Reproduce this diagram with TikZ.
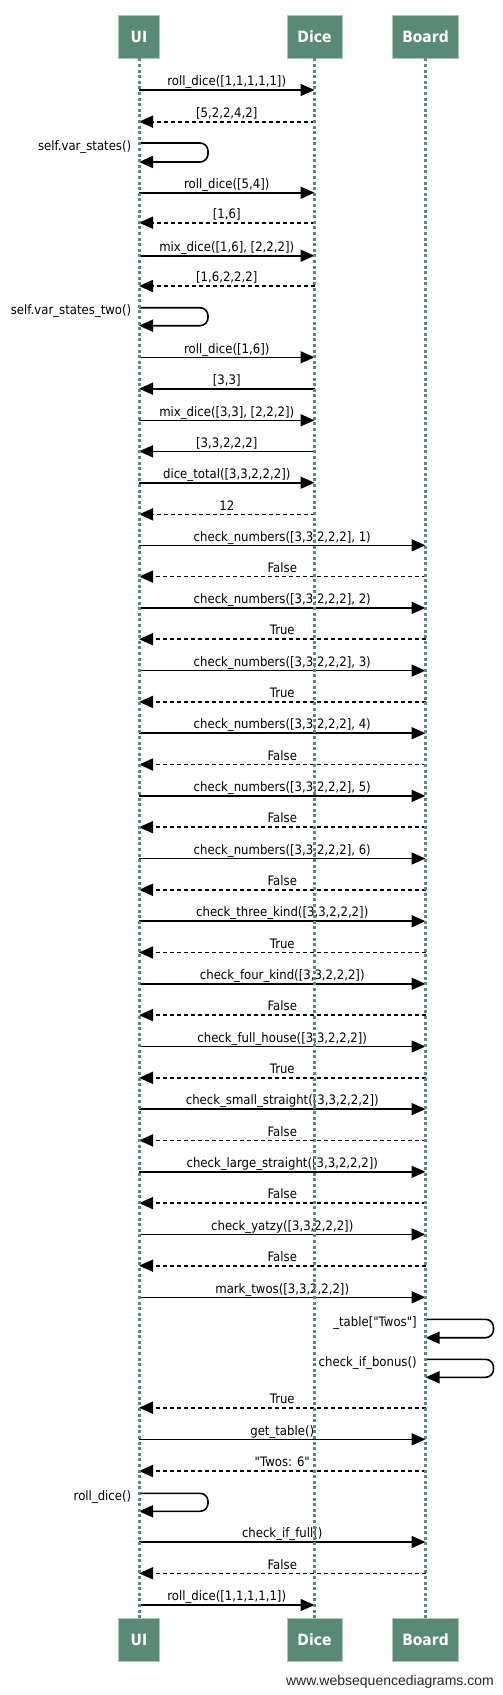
\documentclass[tikz,border=0pt]{standalone}
\usepackage{fontspec}
\usepackage{tikz}
\usetikzlibrary{arrows.meta, positioning}
\newfontfamily\seqfont{DejaVu Sans}[FakeStretch=0.9]
\newfontfamily\wsdfont{Liberation Sans}
\definecolor{lifegreen}{RGB}{88,138,118}
\definecolor{lifeline}{RGB}{86,140,120}
\definecolor{lifeedge}{RGB}{170,198,187}

\begin{document}
\begin{tikzpicture}[x=1pt,y=-1pt,
          actor/.style={draw=lifeedge,fill=lifegreen,line width=0.8pt,minimum height=43pt,
                        inner xsep=10pt,text=white,font=\seqfont\bfseries\fontsize{15.5}{15.5}\selectfont},
          life/.style={lifeline,line width=3pt,dash pattern=on 3pt off 2.6pt},
          call/.style={-{Triangle[length=14pt,width=12pt]},line width=1.6pt},
          reply/.style={call,dash pattern=on 4pt off 3pt},
          selfcall/.style={call,rounded corners=8pt},
          lbl/.style={font=\seqfont\fontsize{13}{13}\selectfont,inner sep=1pt,text depth=2.5pt}]
        \useasboundingbox (0,0) rectangle (503,1695);
        % participants, top and bottom
        \node[actor,minimum width=41pt](ui)    at (139,36.5){UI};
        \node[actor,minimum width=55pt](dice)  at (314.5,36.5){Dice};
        \node[actor,minimum width=65pt](board) at (425.5,36.5){Board};
        \node[actor,minimum width=41pt](uib)    at (139,1639.5){UI};
        \node[actor,minimum width=55pt](diceb)  at (314.5,1639.5){Dice};
        \node[actor,minimum width=65pt](boardb) at (425.5,1639.5){Board};
        % rolling
        \draw[call](ui |- 0,90)--node[lbl,above](m1){roll\_dice([1,1,1,1,1])}(dice |- 0,90);
        \draw[reply](dice |- 0,121.7)--node[lbl,above](m2){[5,2,2,4,2]}(ui |- 0,121.7);
        \draw[selfcall](ui |- 0,143)
          node[lbl,anchor=base east,xshift=-6pt,yshift=-7pt](m3){self.var\_states()}
          --++(69,0)--++(0,19)--++(-69,0);
        \draw[call](ui |- 0,192.7)--node[lbl,above](m4){roll\_dice([5,4])}(dice |- 0,192.7);
        \draw[reply](dice |- 0,222.7)--node[lbl,above](m5){[1,6]}(ui |- 0,222.7);
        \draw[call](ui |- 0,255.7)--node[lbl,above](m6){mix\_dice([1,6], [2,2,2])}(dice |- 0,255.7);
        \draw[reply](dice |- 0,286)--node[lbl,above](m7){[1,6,2,2,2]}(ui |- 0,286);
        \draw[selfcall](ui |- 0,307.7)
          node[lbl,anchor=base east,xshift=-6pt,yshift=-7pt](m8){self.var\_states\_two()}
          --++(69,0)--++(0,18)--++(-69,0);
        \draw[call](ui |- 0,357.3)--node[lbl,above](m9){roll\_dice([1,6])}(dice |- 0,357.3);
        \draw[call](dice |- 0,388.7)--node[lbl,above](m10){[3,3]}(ui |- 0,388.7);
        \draw[call](ui |- 0,420.3)--node[lbl,above](m11){mix\_dice([3,3], [2,2,2])}(dice |- 0,420.3);
        \draw[call](dice |- 0,451.3)--node[lbl,above](m12){[3,3,2,2,2]}(ui |- 0,451.3);
        \draw[call](ui |- 0,482.7)--node[lbl,above](m13){dice\_total([3,3,2,2,2])}(dice |- 0,482.7);
        \draw[reply](dice |- 0,514.3)--node[lbl,above](m14){12}(ui |- 0,514.3);
        % board checks
        \draw[call](ui |- 0,545.3)--node[lbl,above](m15){check\_numbers([3,3,2,2,2], 1)}(board |- 0,545.3);
        \draw[reply](board |- 0,576.6)--node[lbl,above](m16){False}(ui |- 0,576.6);
        \draw[call](ui |- 0,607.9)--node[lbl,above](m17){check\_numbers([3,3,2,2,2], 2)}(board |- 0,607.9);
        \draw[reply](board |- 0,639.2)--node[lbl,above](m18){True}(ui |- 0,639.2);
        \draw[call](ui |- 0,670.6)--node[lbl,above](m19){check\_numbers([3,3,2,2,2], 3)}(board |- 0,670.6);
        \draw[reply](board |- 0,701.9)--node[lbl,above](m20){True}(ui |- 0,701.9);
        \draw[call](ui |- 0,733.2)--node[lbl,above](m21){check\_numbers([3,3,2,2,2], 4)}(board |- 0,733.2);
        \draw[reply](board |- 0,764.5)--node[lbl,above](m22){False}(ui |- 0,764.5);
        \draw[call](ui |- 0,795.9)--node[lbl,above](m23){check\_numbers([3,3,2,2,2], 5)}(board |- 0,795.9);
        \draw[reply](board |- 0,827.2)--node[lbl,above](m24){False}(ui |- 0,827.2);
        \draw[call](ui |- 0,858.5)--node[lbl,above](m25){check\_numbers([3,3,2,2,2], 6)}(board |- 0,858.5);
        \draw[reply](board |- 0,889.8)--node[lbl,above](m26){False}(ui |- 0,889.8);
        \draw[call](ui |- 0,921.2)--node[lbl,above](m27){check\_three\_kind([3,3,2,2,2])}(board |- 0,921.2);
        \draw[reply](board |- 0,952.5)--node[lbl,above](m28){True}(ui |- 0,952.5);
        \draw[call](ui |- 0,983.8)--node[lbl,above](m29){check\_four\_kind([3,3,2,2,2])}(board |- 0,983.8);
        \draw[reply](board |- 0,1015.1)--node[lbl,above](m30){False}(ui |- 0,1015.1);
        \draw[call](ui |- 0,1046.5)--node[lbl,above](m31){check\_full\_house([3,3,2,2,2])}(board |- 0,1046.5);
        \draw[reply](board |- 0,1077.8)--node[lbl,above](m32){True}(ui |- 0,1077.8);
        \draw[call](ui |- 0,1109.1)--node[lbl,above](m33){check\_small\_straight([3,3,2,2,2])}(board |- 0,1109.1);
        \draw[reply](board |- 0,1140.4)--node[lbl,above](m34){False}(ui |- 0,1140.4);
        \draw[call](ui |- 0,1171.8)--node[lbl,above](m35){check\_large\_straight([3,3,2,2,2])}(board |- 0,1171.8);
        \draw[reply](board |- 0,1203.1)--node[lbl,above](m36){False}(ui |- 0,1203.1);
        \draw[call](ui |- 0,1234.4)--node[lbl,above](m37){check\_yatzy([3,3,2,2,2])}(board |- 0,1234.4);
        \draw[reply](board |- 0,1265.7)--node[lbl,above](m38){False}(ui |- 0,1265.7);
        % marking
        \draw[call](ui |- 0,1297.3)--node[lbl,above](m39){mark\_twos([3,3,2,2,2])}(board |- 0,1297.3);
        \draw[selfcall](board |- 0,1319.3)
          node[lbl,anchor=base east,xshift=-7pt,yshift=-7pt](m40){\_table["Twos"]}
          --++(68,0)--++(0,18.4)--++(-68,0);
        \draw[selfcall](board |- 0,1359.3)
          node[lbl,anchor=base east,xshift=-7pt,yshift=-7pt](m41){check\_if\_bonus()}
          --++(68,0)--++(0,18)--++(-68,0);
        \draw[reply](board |- 0,1407.7)--node[lbl,above](m42){True}(ui |- 0,1407.7);
        \draw[call](ui |- 0,1439.3)--node[lbl,above](m43){get\_table()}(board |- 0,1439.3);
        \draw[reply](board |- 0,1471)--node[lbl,above](m44){"Twos: 6"}(ui |- 0,1471);
        \draw[selfcall](ui |- 0,1493.3)
          node[lbl,anchor=base east,xshift=-6pt,yshift=-7pt](m45){roll\_dice()}
          --++(69,0)--++(0,18)--++(-69,0);
        \draw[call](ui |- 0,1542)--node[lbl,above](m46){check\_if\_full()}(board |- 0,1542);
        \draw[reply](board |- 0,1573.3)--node[lbl,above](m47){False}(ui |- 0,1573.3);
        \draw[call](ui |- 0,1605)--node[lbl,above](m48){roll\_dice([1,1,1,1,1])}(dice |- 0,1605);
        % lifelines over the messages
        \draw[life](ui)--(uib);
        \draw[life](dice)--(diceb);
        \draw[life](board)--(boardb);
        \node[anchor=base east,inner sep=0pt,text=black!85,
              font=\wsdfont\fontsize{14}{14}\selectfont](wsd) at (494,1685){www.websequencediagrams.com};
      \end{tikzpicture}
\end{document}
